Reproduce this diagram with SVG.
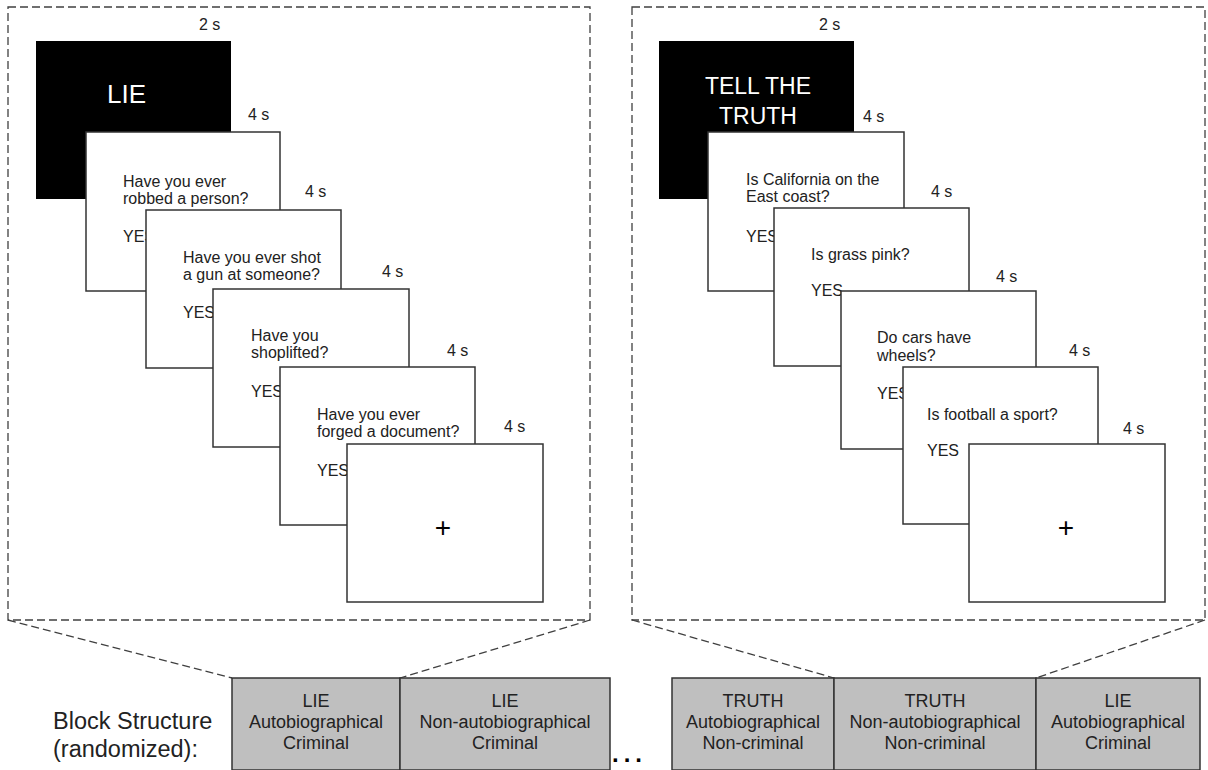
<svg xmlns="http://www.w3.org/2000/svg" width="1208" height="770" viewBox="0 0 1208 770">
<style>
.dash{fill:none;stroke:#404040;stroke-width:1.3;stroke-dasharray:8 4}
.card{fill:#fff;stroke:#333;stroke-width:1.5}
.blk{fill:#000}
.gbox{fill:#bfbfbf;stroke:#333;stroke-width:1.5}
.t{font-family:"Liberation Sans",Arial,sans-serif;fill:#222}
.q{font-size:16px}
.lbl{font-size:16px}
.big{font-size:24px;fill:#fff}
.bs{font-size:18px;text-anchor:middle}
.plus{font-size:28px;text-anchor:middle;fill:#000}
</style>
<rect width="1208" height="770" fill="#fff"/>
<g id="connectors">
<rect class="dash" x="8" y="7" width="582" height="613"/>
<rect class="dash" x="632" y="7" width="573" height="613"/>
<line class="dash" x1="8" y1="620" x2="232" y2="678"/>
<line class="dash" x1="590" y1="620" x2="400" y2="678"/>
<line class="dash" x1="632" y1="620" x2="834" y2="678"/>
<line class="dash" x1="1205" y1="620" x2="1036" y2="678"/>
</g>
<g id="lie-panel">
<g id="lie-cue"><rect class="blk" x="36" y="41" width="195" height="158"/><text class="t big" x="107" y="103" style="font-size:26px">LIE</text><text class="t lbl" x="199" y="30">2 s</text></g>
<g id="lie-q1"><rect class="card" x="86" y="132" width="194" height="159"/><text class="t lbl" x="248" y="120">4 s</text><text class="t q" x="123" y="187">Have you ever</text><text class="t q" x="123" y="204">robbed a person?</text><text class="t q" x="123" y="242">YES</text></g>
<g id="lie-q2"><rect class="card" x="146" y="210" width="195" height="158"/><text class="t lbl" x="305" y="197">4 s</text><text class="t q" x="183" y="263">Have you ever shot</text><text class="t q" x="183" y="280">a gun at someone?</text><text class="t q" x="183" y="318">YES</text></g>
<g id="lie-q3"><rect class="card" x="213" y="289" width="196" height="158"/><text class="t lbl" x="382" y="277">4 s</text><text class="t q" x="251" y="341">Have you</text><text class="t q" x="251" y="358">shoplifted?</text><text class="t q" x="251" y="397">YES</text></g>
<g id="lie-q4"><rect class="card" x="280" y="367" width="195" height="158"/><text class="t lbl" x="447" y="356">4 s</text><text class="t q" x="317" y="420">Have you ever</text><text class="t q" x="317" y="437">forged a document?</text><text class="t q" x="317" y="476">YES</text></g>
<g id="lie-fix"><rect class="card" x="347" y="444" width="196" height="158"/><text class="t lbl" x="504" y="432">4 s</text><text class="t plus" x="443" y="537">+</text></g>
</g>
<g id="truth-panel">
<g id="truth-cue"><rect class="blk" x="659" y="41" width="195" height="158"/><text class="t big" x="758" y="94" text-anchor="middle" style="font-size:23px">TELL THE</text><text class="t big" x="758" y="124" text-anchor="middle" style="font-size:23px">TRUTH</text><text class="t lbl" x="819" y="30">2 s</text></g>
<g id="truth-q1"><rect class="card" x="708" y="132" width="196" height="159"/><text class="t lbl" x="863" y="122">4 s</text><text class="t q" x="746" y="185">Is California on the</text><text class="t q" x="746" y="202">East coast?</text><text class="t q" x="746" y="242">YES</text></g>
<g id="truth-q2"><rect class="card" x="774" y="208" width="195" height="158"/><text class="t lbl" x="931" y="197">4 s</text><text class="t q" x="811" y="260">Is grass pink?</text><text class="t q" x="811" y="296">YES</text></g>
<g id="truth-q3"><rect class="card" x="841" y="291" width="195" height="158"/><text class="t lbl" x="996" y="282">4 s</text><text class="t q" x="877" y="343">Do cars have</text><text class="t q" x="877" y="361">wheels?</text><text class="t q" x="877" y="399">YES</text></g>
<g id="truth-q4"><rect class="card" x="903" y="367" width="195" height="157"/><text class="t lbl" x="1069" y="356">4 s</text><text class="t q" x="927" y="420">Is football a sport?</text><text class="t q" x="927" y="456">YES</text></g>
<g id="truth-fix"><rect class="card" x="969" y="444" width="196" height="158"/><text class="t lbl" x="1123" y="434">4 s</text><text class="t plus" x="1066" y="537">+</text></g>
</g>
<g id="block-structure">
<text class="t" x="53" y="729" style="font-size:23.5px">Block Structure</text>
<text class="t" x="53" y="757" style="font-size:23.5px">(randomized):</text>
<g id="b1"><rect class="gbox" x="232" y="678" width="168" height="92"/><text class="t bs" x="316" y="707">LIE</text><text class="t bs" x="316" y="728">Autobiographical</text><text class="t bs" x="316" y="749">Criminal</text></g>
<g id="b2"><rect class="gbox" x="400" y="678" width="210" height="92"/><text class="t bs" x="505" y="707">LIE</text><text class="t bs" x="505" y="728">Non-autobiographical</text><text class="t bs" x="505" y="749">Criminal</text></g>
<text class="t" x="612" y="762" style="font-size:24px;font-weight:bold;fill:#000;letter-spacing:5px">...</text>
<g id="b3"><rect class="gbox" x="672" y="678" width="162" height="92"/><text class="t bs" x="753" y="707">TRUTH</text><text class="t bs" x="753" y="728">Autobiographical</text><text class="t bs" x="753" y="749">Non-criminal</text></g>
<g id="b4"><rect class="gbox" x="834" y="678" width="202" height="92"/><text class="t bs" x="935" y="707">TRUTH</text><text class="t bs" x="935" y="728">Non-autobiographical</text><text class="t bs" x="935" y="749">Non-criminal</text></g>
<g id="b5"><rect class="gbox" x="1036" y="678" width="164" height="92"/><text class="t bs" x="1118" y="707">LIE</text><text class="t bs" x="1118" y="728">Autobiographical</text><text class="t bs" x="1118" y="749">Criminal</text></g>
</g>
</svg>
